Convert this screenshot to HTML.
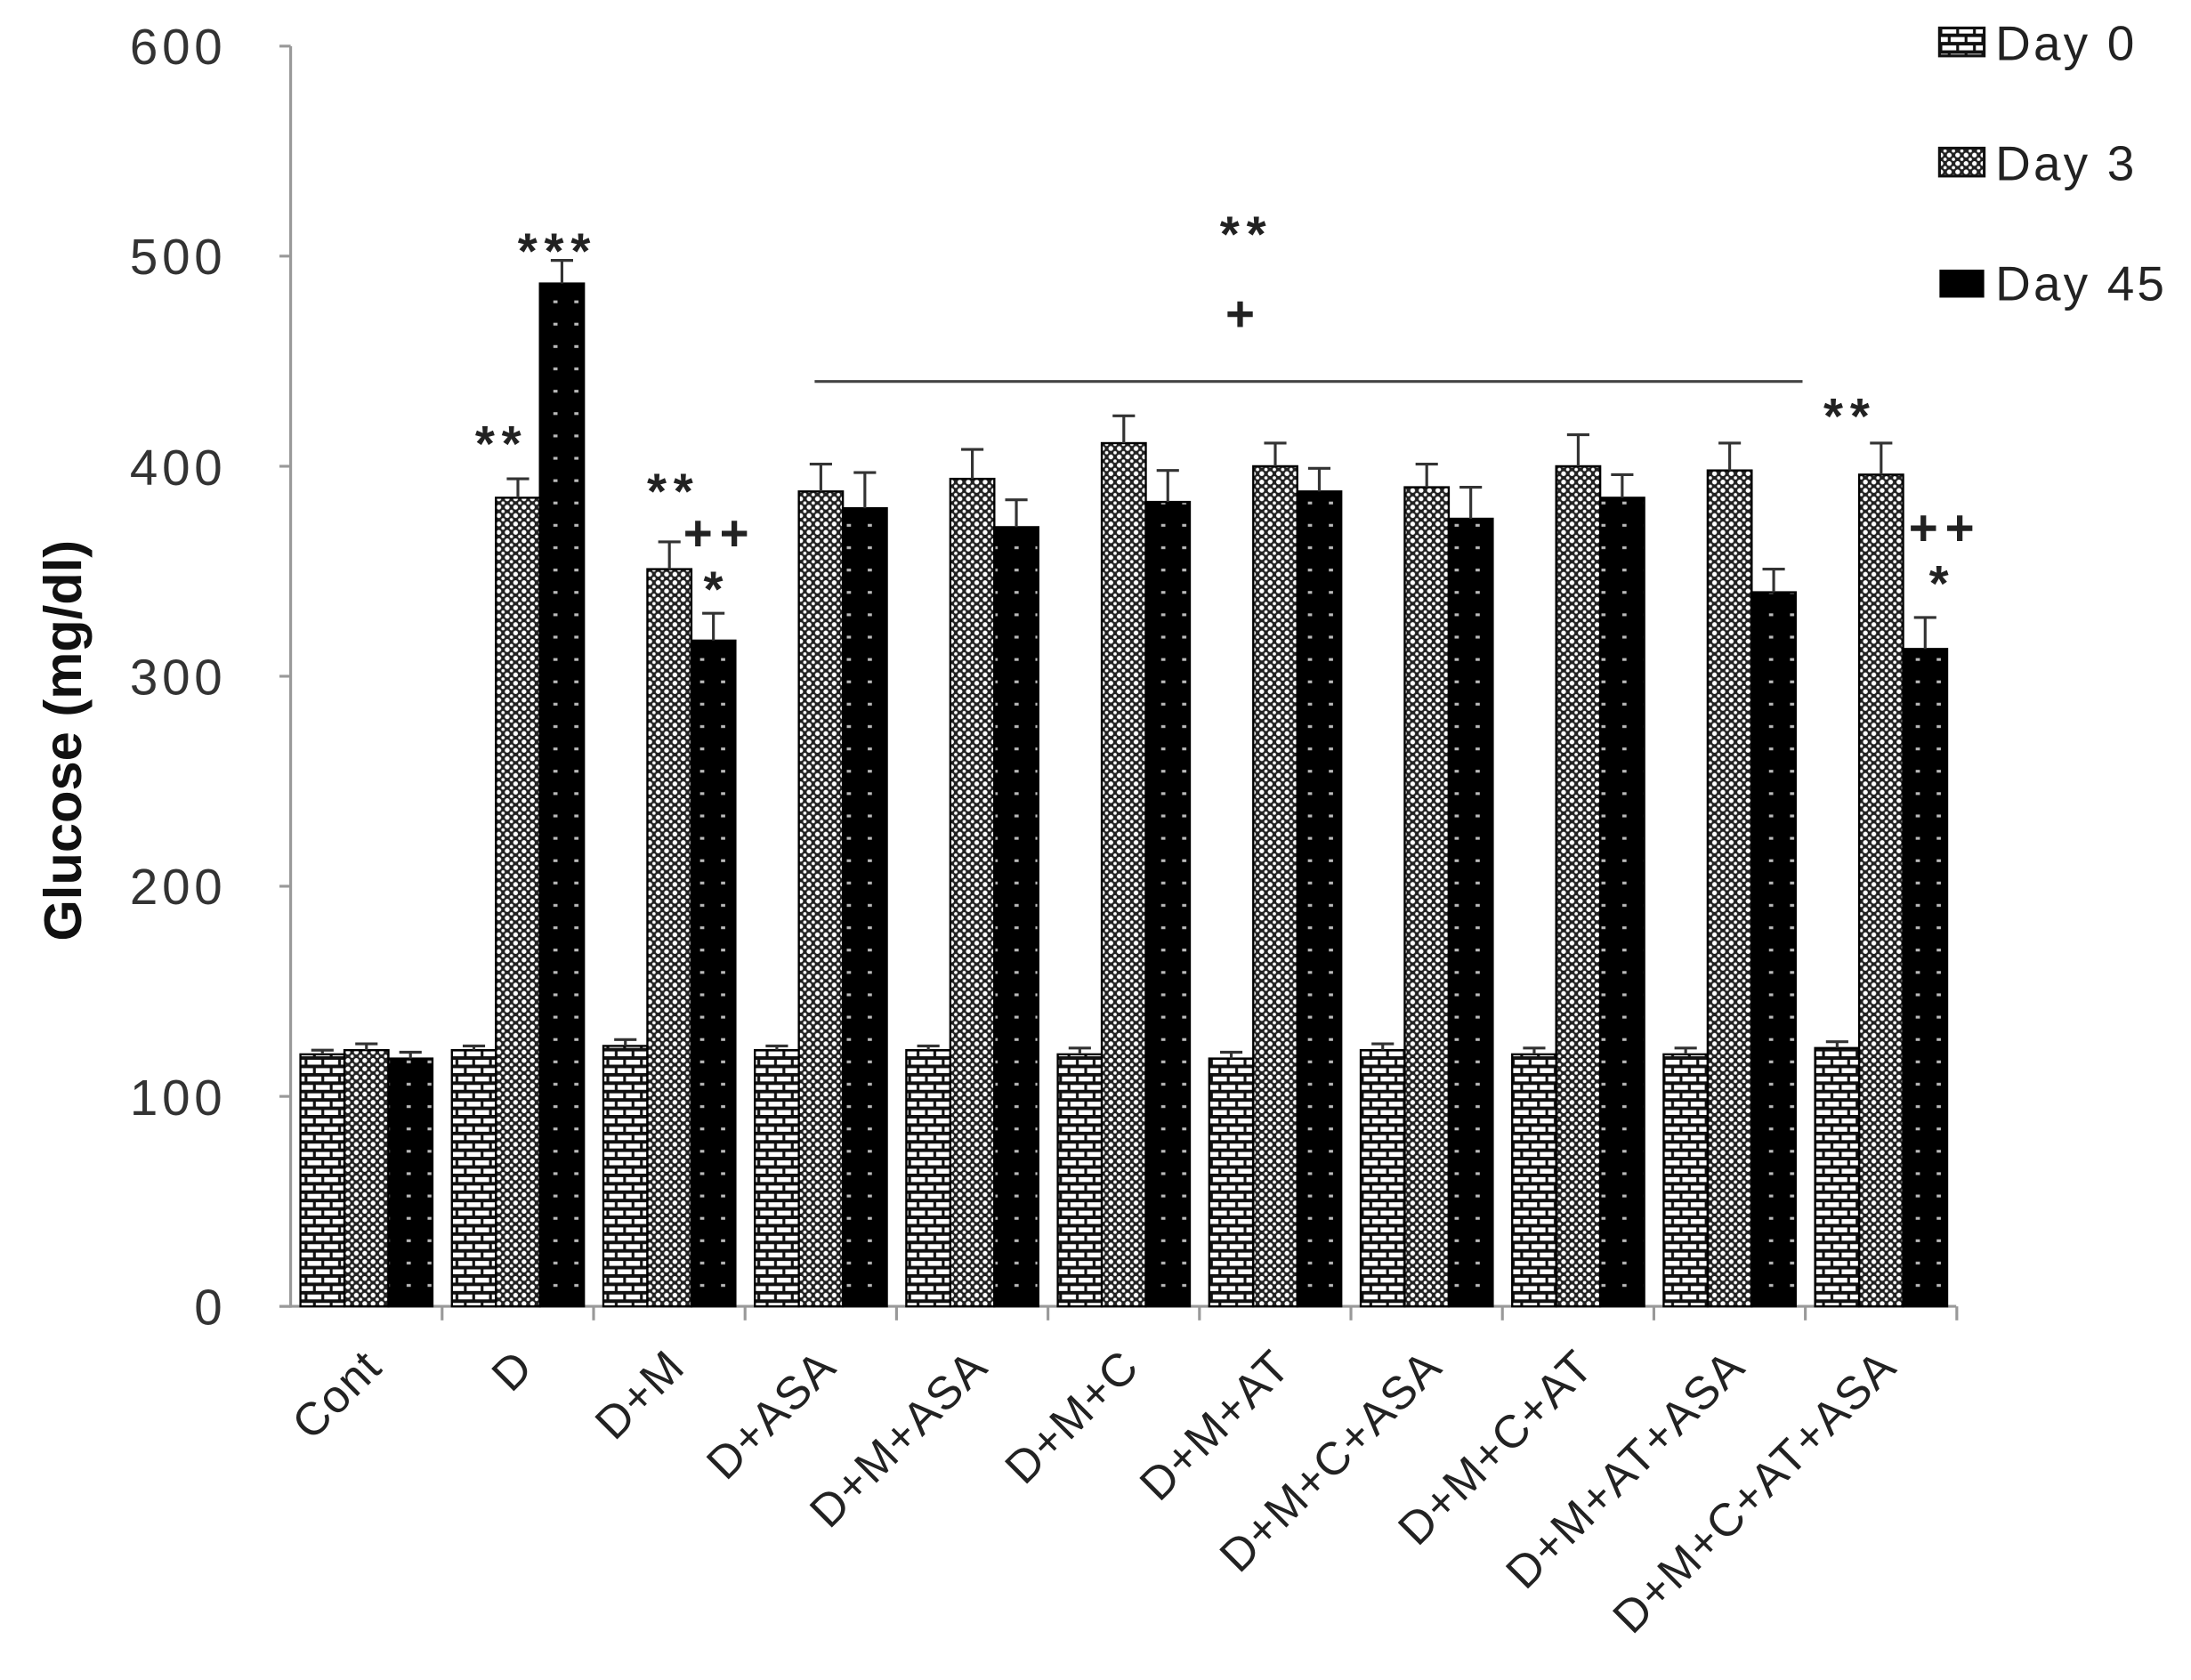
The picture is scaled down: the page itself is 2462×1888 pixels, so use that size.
<!DOCTYPE html>
<html><head><meta charset="utf-8"><style>html,body{margin:0;padding:0;background:#fff}svg{display:block}</style></head>
<body>
<svg width="2462" height="1888" viewBox="0 0 1568 1202.4" xmlns="http://www.w3.org/2000/svg" font-family="'Liberation Sans',sans-serif">
<defs>
<pattern id="brick" width="12" height="12" patternUnits="userSpaceOnUse">
<rect width="12" height="12" fill="#fff"/>
<rect x="0" y="0" width="12" height="2.5" fill="#111"/>
<rect x="0" y="6" width="12" height="2.5" fill="#111"/>
<rect x="2" y="0" width="2" height="6" fill="#111"/>
<rect x="8" y="6" width="2" height="6" fill="#111"/>
</pattern>
<pattern id="check" width="6" height="6" patternUnits="userSpaceOnUse">
<rect width="6" height="6" fill="#222"/>
<circle cx="3" cy="3" r="1.7" fill="#fff"/>
<circle cx="0" cy="0" r="1.2" fill="#fff"/><circle cx="6" cy="0" r="1.2" fill="#fff"/><circle cx="0" cy="6" r="1.2" fill="#fff"/><circle cx="6" cy="6" r="1.2" fill="#fff"/>
</pattern>
<pattern id="dots" width="15" height="16" patternUnits="userSpaceOnUse">
<rect width="15" height="16" fill="#000"/>
<rect x="6" y="7" width="3" height="2" fill="#bbb"/>
</pattern>
</defs>
<line x1="208" y1="33" x2="208" y2="936" stroke="#999" stroke-width="2"/>
<g stroke="#999" stroke-width="2">
<line x1="200" y1="33" x2="208" y2="33"/><line x1="200" y1="183.3" x2="208" y2="183.3"/><line x1="200" y1="333.7" x2="208" y2="333.7"/><line x1="200" y1="484" x2="208" y2="484"/><line x1="200" y1="634.3" x2="208" y2="634.3"/><line x1="200" y1="784.7" x2="208" y2="784.7"/><line x1="200" y1="935" x2="208" y2="935"/>
<line x1="200" y1="935" x2="1400" y2="935"/>
</g>
<g font-size="36" fill="#333" text-anchor="end" letter-spacing="3">
<text x="162" y="46">600</text><text x="162" y="196">500</text><text x="162" y="347">400</text><text x="162" y="497">300</text><text x="162" y="647">200</text><text x="162" y="798">100</text><text x="162" y="948">0</text>
</g>
<text transform="translate(58,530) rotate(-90)" text-anchor="middle" font-size="38" font-weight="bold" fill="#111">Glucose (mg/dl)</text>
<g id="bars"></g>
<rect x="1388" y="20" width="32" height="20" fill="url(#brick)" stroke="#111" stroke-width="2"/>
<rect x="1388" y="106" width="32" height="20" fill="url(#check)" stroke="#111" stroke-width="2"/>
<rect x="1388" y="193" width="32" height="20" fill="#000"/>
<g font-size="35" fill="#222" letter-spacing="2"><text x="1428" y="43">Day 0</text><text x="1428" y="129">Day 3</text><text x="1428" y="215">Day 45</text></g>
<line x1="583" y1="273" x2="1290" y2="273" stroke="#444" stroke-width="2"/>
<g font-size="36" font-weight="bold" fill="#222" text-anchor="middle" letter-spacing="5">
<text x="892" y="180">**</text><text x="890" y="237">+</text>
<text x="399" y="192">***</text><text x="359" y="330">**</text>
<text x="482" y="364">**</text><text x="515" y="394">++</text><text x="513" y="434">*</text>
<text x="1324" y="310">**</text><text x="1392" y="390">++</text><text x="1390" y="430">*</text>
</g>
<g id="labels" font-size="33" fill="#222" letter-spacing="1"></g>
<script>
var vals=[[120,122,118],[122,385,487],[124,351,317],[122,388,380],[122,394,371],[120,411,383],[118,400,388],[122,390,375],[120,400,385],[120,398,340],[123,396,313]];
var errs=[[2,3,3],[2,9,11],[3,13,13],[2,13,17],[2,14,13],[3,13,15],[3,11,11],[3,11,15],[3,15,11],[3,13,11],[3,15,15]];
var names=["Cont","D","D+M","D+ASA","D+M+ASA","D+M+C","D+M+AT","D+M+C+ASA","D+M+C+AT","D+M+AT+ASA","D+M+C+AT+ASA"];
var fills=["url(#brick)","url(#check)","url(#dots)"];
var ns="http://www.w3.org/2000/svg",g=document.getElementById("bars"),lg=document.getElementById("labels");
function y(v){return 935-v*1.5033;}
function el(t,a,p){var e=document.createElementNS(ns,t);for(var k in a)e.setAttribute(k,a[k]);p.appendChild(e);return e;}
for(var i=0;i<11;i++){
 var x0=215+i*108.4;
 for(var j=0;j<3;j++){
  var x=x0+j*31.5,v=vals[i][j],yt=y(v);
  el("rect",{x:x,y:yt,width:31.5,height:935-yt,fill:fills[j],stroke:"#000","stroke-width":1.5},g);
  var ye=y(v+errs[i][j]),cx=x+15.75;
  el("line",{x1:cx,y1:yt,x2:cx,y2:ye,stroke:"#333","stroke-width":2},g);
  el("line",{x1:cx-8,y1:ye,x2:cx+8,y2:ye,stroke:"#333","stroke-width":2},g);
 }
 el("line",{x1:208+(i+1)*108.4,y1:935,x2:208+(i+1)*108.4,y2:945,stroke:"#999","stroke-width":2},g);
 var tx=x0+60,t=el("text",{x:0,y:0,"text-anchor":"end",transform:"translate("+tx+",980) rotate(-45)"},lg);
 t.textContent=names[i];
}
</script>
</svg>
</body></html>
